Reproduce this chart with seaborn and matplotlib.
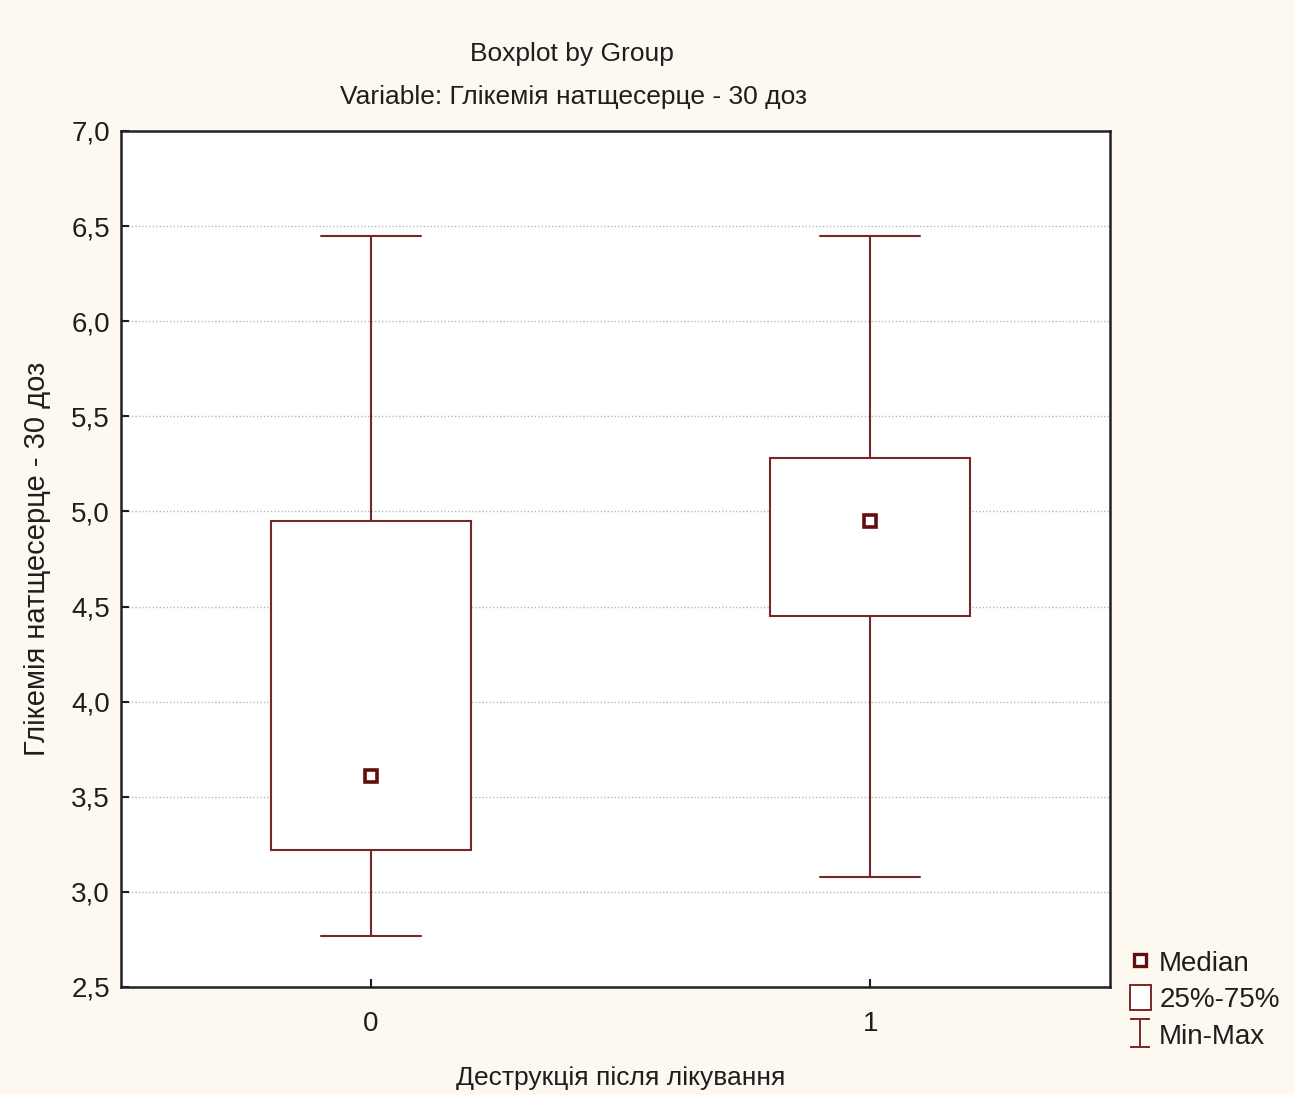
import numpy as np
import pandas as pd
import matplotlib
matplotlib.use("Agg")
import matplotlib.pyplot as plt
from matplotlib.lines import Line2D
from matplotlib.patches import Patch
from matplotlib.path import Path
from matplotlib.ticker import FuncFormatter, MultipleLocator
import seaborn as sns

# Summary statistics per group
groups = ["0", "1"]
mins = [2.77, 3.08]
q1s = [3.22, 4.45]
medians = [3.61, 4.95]
q3s = [4.95, 5.28]
maxs = [6.45, 6.45]

title = "Boxplot by Group"
subtitle = "Variable: Глікемія натщесерце - 30 доз"
xlabel = "Деструкція після лікування"
ylabel = "Глікемія натщесерце - 30 доз"
legend_labels = ["Median", "25%-75%", "Min-Max"]

# Five-point samples per group: their 0/25/50/75/100 percentiles are exactly the summary
rows = []
for g, a, b, c, d, e in zip(groups, mins, q1s, medians, q3s, maxs):
    for v in (a, b, c, d, e):
        rows.append({"group": g, "value": v})
df = pd.DataFrame(rows)

BG = "#FDF9F0"
DARK = "#762828"
MED = "#620E0E"
TEXT = "#1E1E1E"

sns.set_theme(style="white")
plt.rcParams["font.family"] = ["Liberation Sans", "DejaVu Sans"]
plt.rcParams["text.color"] = TEXT
plt.rcParams["axes.labelcolor"] = TEXT
plt.rcParams["xtick.color"] = TEXT
plt.rcParams["ytick.color"] = TEXT

fig = plt.figure(figsize=(12.95, 10.95), dpi=100, facecolor=BG)
ax = fig.add_axes([121 / 1295, 1 - 987 / 1095, 989 / 1295, 856 / 1095])
ax.set_facecolor("white")

sns.boxplot(
    data=df, x="group", y="value", order=groups,
    whis=(0, 100), width=0.4, color="white", linecolor=DARK, linewidth=1.5,
    showfliers=False, medianprops={"visible": False}, ax=ax,
)
sns.pointplot(
    data=df, x="group", y="value", order=groups,
    estimator="median", errorbar=None, linestyle="none", marker="s",
    color=MED, markersize=9, markerfacecolor="white", markeredgewidth=2.6,
    ax=ax,
)
for ln in ax.lines[-1:]:
    ln.set_zorder(6)

ax.set_xlim(-0.5, 1.48)
ax.set_ylim(2.5, 7.0)
ax.yaxis.set_major_locator(MultipleLocator(0.5))
ax.yaxis.set_major_formatter(FuncFormatter(lambda v, p: f"{v:.1f}".replace(".", ",")))
ax.yaxis.grid(True, linestyle=(0, (1, 1.5)), color="#b8b8b8", linewidth=1.0)
ax.set_axisbelow(True)

ax.tick_params(axis="both", direction="in", length=6, width=1.5, labelsize=20,
               left=True, bottom=True)
ax.tick_params(axis="y", pad=8)
ax.tick_params(axis="x", pad=17)
for sp in ax.spines.values():
    sp.set_color("#222222")
    sp.set_linewidth(1.8)

ax.set_xlabel(xlabel, fontsize=19)
ax.set_ylabel(ylabel, fontsize=21)
ax.xaxis.set_label_coords(0.505, -0.092)
ax.yaxis.set_label_coords(-0.071, 0.5)

fig.text(572 / 1295, 1 - 54 / 1095, title, ha="center", va="center", fontsize=19)
fig.text(574 / 1295, 1 - 97 / 1095, subtitle, ha="center", va="center", fontsize=19)

ibeam = Path(
    [(-0.7, 1), (0.7, 1), (0, 1), (0, -1), (-0.7, -1), (0.7, -1)],
    [Path.MOVETO, Path.LINETO, Path.MOVETO, Path.LINETO, Path.MOVETO, Path.LINETO],
)
handles = [
    Line2D([], [], marker="s", linestyle="none", markersize=8, markerfacecolor="white",
           markeredgecolor=MED, markeredgewidth=2.4),
    Patch(facecolor="white", edgecolor=DARK, linewidth=1.4),
    Line2D([], [], marker=ibeam, linestyle="none", markersize=20,
           markeredgecolor=DARK, markeredgewidth=1.4),
]
fig.legend(handles, legend_labels, loc="upper left",
           bbox_to_anchor=(1130 / 1295, 1 - 949 / 1095), frameon=False, fontsize=20,
           handlelength=0.75, handleheight=1.0, handletextpad=0.3, labelspacing=0.3,
           borderpad=0, borderaxespad=0)

fig.savefig("out.png", dpi=100, facecolor=BG)
